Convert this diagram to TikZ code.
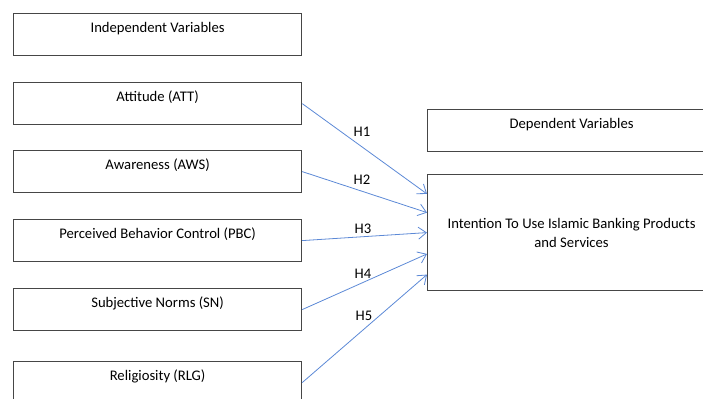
\documentclass[tikz,border=0pt]{standalone}
\usepackage{fontspec}
\setmainfont{Carlito}
\usepackage{tikz}
\usetikzlibrary{arrows.meta}

\definecolor{boxgray}{RGB}{70,70,70}
\definecolor{hypblue}{RGB}{92,137,214}

\tikzset{
  varbox/.style={shape=rectangle, draw=boxgray, line width=0.9pt, anchor=north west,
    minimum width=216pt, inner ysep=3pt, text height=11.5pt, text depth=14pt,
    font=\fontsize{11}{14.25}\selectfont},
  hyp/.style={hypblue, line width=0.6pt, -{Straight Barb[length=6pt,width=9pt]}},
  hlabel/.style={font=\fontsize{11}{13}\selectfont}
}

\begin{document}
\begin{tikzpicture}[x=0.75pt, y=-0.75pt]

	\useasboundingbox (0,0) rectangle (703,399);
	\clip (0,0) rectangle (703,399);

	\node[varbox] (iv) at (13, 13) {Independent Variables};
	\node[varbox] (att) at (13, 82) {Attitude (ATT)};
	\node[varbox] (aws) at (13, 150) {Awareness (AWS)};
	\node[varbox] (pbc) at (13, 219) {Perceived Behavior Control (PBC)};
	\node[varbox] (sn) at (13, 288) {Subjective Norms (SN)};
	\node[varbox] (rlg) at (13, 361) {Religiosity (RLG)};

	\node[varbox] (dv) at (427, 109) {Dependent Variables};
	\node[varbox, text height=, text depth=, minimum height=87pt, align=center] (intent) at (427, 174)
		{Intention To Use Islamic Banking Products\\and Services};

	\path[hyp] (att.east) edge ([yshift=29pt]intent.west);
	\path[hyp] (aws.east) edge ([yshift=15pt]intent.west);
	\path[hyp] (pbc.east) edge (intent.west);
	\path[hyp] (sn.east) edge ([yshift=-16pt]intent.west);
	\path[hyp] (rlg.east) edge ([yshift=-31.5pt]intent.west);

	\node[hlabel] (h1) at (362, 132) {H1};
	\node[hlabel] (h2) at (362, 180) {H2};
	\node[hlabel] (h3) at (363, 229) {H3};
	\node[hlabel] (h4) at (363, 274) {H4};
	\node[hlabel] (h5) at (364, 316) {H5};

\end{tikzpicture}
\end{document}
